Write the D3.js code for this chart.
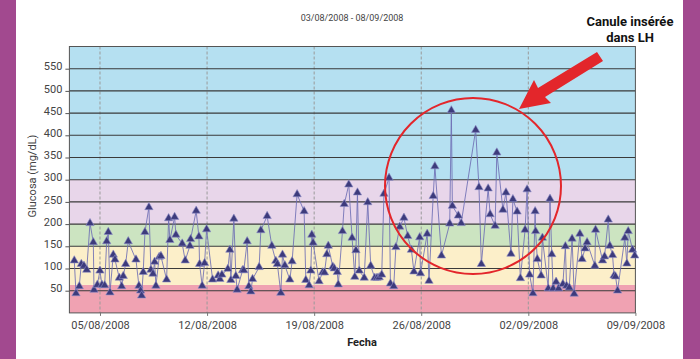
<!DOCTYPE html>
<html>
<head>
<meta charset="utf-8">
<script src="https://cdn.jsdelivr.net/npm/d3@7"></script>
<style>
  html, body { margin: 0; padding: 0; background: #ffffff; }
  svg { display: block; }
</style>
</head>
<body>
<svg id="chart" width="700" height="359"></svg>
<script>
// ---------- DATA ----------
const times = [
"03/08/2008 07:40","03/08/2008 10:20","03/08/2008 15:30","03/08/2008 18:40","03/08/2008 22:50",
"04/08/2008 03:10","04/08/2008 08:20","04/08/2008 13:30","04/08/2008 14:35","04/08/2008 19:45",
"04/08/2008 23:55","05/08/2008 03:05","05/08/2008 07:20","05/08/2008 10:30","05/08/2008 13:00",
"05/08/2008 15:40","05/08/2008 20:50","05/08/2008 23:30","06/08/2008 06:15","06/08/2008 10:00",
"06/08/2008 12:30","06/08/2008 16:15","06/08/2008 20:20","07/08/2008 08:25","07/08/2008 13:05",
"07/08/2008 15:45","07/08/2008 17:20","07/08/2008 19:50","07/08/2008 22:30","08/08/2008 04:45",
"08/08/2008 07:55","08/08/2008 11:05","08/08/2008 13:45","08/08/2008 15:45","08/08/2008 20:55",
"08/08/2008 23:35","09/08/2008 08:30","09/08/2008 11:40","09/08/2008 13:40","09/08/2008 21:05",
"09/08/2008 23:05","10/08/2008 09:00","10/08/2008 13:40","10/08/2008 21:05","10/08/2008 22:10",
"11/08/2008 06:55","11/08/2008 11:10","11/08/2008 12:15","11/08/2008 16:20","11/08/2008 20:05",
"11/08/2008 23:15","12/08/2008 08:40","12/08/2008 17:25","12/08/2008 20:05","12/08/2008 23:15",
"13/08/2008 08:35","13/08/2008 11:45","13/08/2008 13:20","13/08/2008 18:00","13/08/2008 21:10",
"13/08/2008 23:10","14/08/2008 07:40","14/08/2008 09:40","14/08/2008 14:55","14/08/2008 17:30",
"14/08/2008 20:40","14/08/2008 23:20","15/08/2008 09:40","15/08/2008 12:20","15/08/2008 22:15",
"16/08/2008 05:35","16/08/2008 11:50","16/08/2008 14:15","16/08/2008 19:40","16/08/2008 22:20",
"17/08/2008 02:00","17/08/2008 09:50","17/08/2008 13:25","17/08/2008 21:15","18/08/2008 08:15",
"18/08/2008 10:55","18/08/2008 16:05","18/08/2008 18:45","18/08/2008 20:20","18/08/2008 22:20",
"19/08/2008 07:45","19/08/2008 13:05","19/08/2008 16:15","19/08/2008 19:50","19/08/2008 22:10",
"20/08/2008 05:15","20/08/2008 07:35","20/08/2008 12:15","20/08/2008 13:50","20/08/2008 20:25",
"20/08/2008 23:15","21/08/2008 06:20","21/08/2008 11:30","21/08/2008 15:45","21/08/2008 17:35",
"21/08/2008 19:55","21/08/2008 22:45","22/08/2008 06:35","22/08/2008 12:05","22/08/2008 16:45",
"22/08/2008 23:05","23/08/2008 02:40","23/08/2008 06:05","23/08/2008 10:00","23/08/2008 13:30",
"23/08/2008 21:30","23/08/2008 23:40","24/08/2008 04:50","24/08/2008 08:15","24/08/2008 14:15",
"24/08/2008 20:50","25/08/2008 02:45","25/08/2008 08:35","25/08/2008 12:30","25/08/2008 21:35",
"25/08/2008 22:50","26/08/2008 09:20","26/08/2008 12:10","26/08/2008 18:45","26/08/2008 21:25",
"27/08/2008 07:45","27/08/2008 20:40","27/08/2008 23:15","28/08/2008 00:50","28/08/2008 10:15",
"28/08/2008 14:40","29/08/2008 13:25","29/08/2008 18:35","29/08/2008 22:20","30/08/2008 09:00",
"30/08/2008 12:05","30/08/2008 19:55","30/08/2008 22:35","31/08/2008 08:10","31/08/2008 12:55",
"31/08/2008 20:45","31/08/2008 23:50","01/09/2008 06:25","01/09/2008 11:35","01/09/2008 18:55",
"01/09/2008 22:05","02/09/2008 02:05","02/09/2008 07:15","02/09/2008 10:40","02/09/2008 11:25",
"02/09/2008 14:05","02/09/2008 20:05","02/09/2008 22:05","03/09/2008 07:20","03/09/2008 10:00",
"03/09/2008 12:50","03/09/2008 14:55","03/09/2008 19:35","03/09/2008 23:30","04/09/2008 06:15",
"04/09/2008 10:10","04/09/2008 12:00","04/09/2008 16:15","04/09/2008 20:40","04/09/2008 23:55",
"05/09/2008 08:55","05/09/2008 12:20","05/09/2008 17:00","05/09/2008 20:10","06/09/2008 08:25",
"06/09/2008 09:30","06/09/2008 20:30","06/09/2008 23:35","07/09/2008 05:25","07/09/2008 07:55",
"07/09/2008 12:10","07/09/2008 14:30","07/09/2008 16:50","07/09/2008 20:00","08/09/2008 07:25",
"08/09/2008 10:35","08/09/2008 12:45","08/09/2008 19:30","08/09/2008 22:55"
];
const glucose = [
118,44,60,110,106,
97,202,159,52,63,
95,63,62,161,182,
46,131,120,79,60,
83,110,161,120,61,
50,39,92,182,238,
97,88,115,61,126,
128,75,213,164,216,
176,156,118,151,166,
230,172,110,61,112,
188,75,84,76,86,
99,142,74,212,83,
52,96,96,161,60,
48,76,103,186,218,
151,117,110,45,131,
107,75,116,267,229,
74,62,95,176,158,
71,91,91,132,151,
104,100,92,64,184,
245,289,169,81,141,
271,95,79,249,106,
79,79,80,86,268,
304,66,60,148,194,
214,173,142,93,170,
89,178,72,263,330,
129,201,456,241,219,
202,412,283,110,280,
222,196,361,232,271,
133,256,228,78,187,
278,86,44,229,184,
121,84,169,55,257,
132,55,70,55,65,
150,61,57,167,43,
178,121,145,159,106,
187,118,127,210,151,
130,84,82,50,169,
111,184,142,129
];
const yTickValues = [50,100,150,200,250,300,350,400,450,500,550];
const xTickLabels = ["05/08/2008","12/08/2008","19/08/2008","26/08/2008","02/09/2008","09/09/2008"];
const dateRange = ["03/08/2008","09/09/2008"];
const bandLimits = [0,63,150,200,300,600];
const bandColors = ["#f0a2b2","#fcefc9","#cce4c1","#e8d6ea","#b5e0f1"];
const titleText = "03/08/2008 - 08/09/2008";
const yLabel = "Glucosa (mg/dL)";
const xLabel = "Fecha";
const noteLines = ["Canule insérée","dans LH"];

// ---------- CHART ----------
const svg = d3.select("#chart");
const parseT = d3.timeParse("%d/%m/%Y %H:%M");
const parseD = d3.timeParse("%d/%m/%Y");
const fmt = d3.timeFormat("%d/%m/%Y");
const data = times.map((t,i)=>({t:parseT(t), v:glucose[i]}));

const X0=69.4, X1=635.4, Y0=312.9, Y1=46.5;
const x = d3.scaleTime().domain(dateRange.map(parseD)).range([X0,X1]);
const y = d3.scaleLinear().domain([0,600]).range([Y0,Y1]);

// purple side strips
svg.append("rect").attr("x",0).attr("y",0).attr("width",16).attr("height",359).attr("fill","#a2498f");
svg.append("rect").attr("x",683).attr("y",0).attr("width",17).attr("height",359).attr("fill","#a2498f");

// bands
const bands = bandColors.map((c,i)=>({lo:bandLimits[i],hi:bandLimits[i+1],c}));
svg.append("g").selectAll("rect").data(bands).join("rect")
  .attr("x",X0).attr("width",X1-X0)
  .attr("y",d=>y(d.hi)).attr("height",d=>y(d.lo)-y(d.hi))
  .attr("fill",d=>d.c);

// vertical dashed lines
const xTicks = xTickLabels.map(parseD);
svg.append("g").selectAll("line").data(xTicks.filter(d=>x(d)<X1-1)).join("line")
  .attr("x1",d=>x(d)).attr("x2",d=>x(d)).attr("y1",Y1).attr("y2",Y0)
  .attr("stroke","#9a9a9a").attr("stroke-width",1).attr("stroke-dasharray","3,2");

// horizontal grid lines
svg.append("g").selectAll("line").data(yTickValues).join("line")
  .attr("x1",X0).attr("x2",X1).attr("y1",d=>y(d)).attr("y2",d=>y(d))
  .attr("stroke","#3a3a3a").attr("stroke-width",1.1);

// frame
svg.append("rect").attr("x",X0).attr("y",Y1).attr("width",X1-X0).attr("height",Y0-Y1)
  .attr("fill","none").attr("stroke","#555").attr("stroke-width",1);

// axes
const yAxis = svg.append("g").attr("transform",`translate(${X0},0)`)
  .call(d3.axisLeft(y).tickValues(yTickValues).tickSize(4).tickPadding(3));
yAxis.select(".domain").remove();
yAxis.selectAll(".tick line").attr("stroke","#555");
yAxis.selectAll("text").attr("fill","#444").style("font-family","Roboto, 'DejaVu Sans', sans-serif")
  .style("font-size","11px").attr("dy","0.1em");

const xAxis = svg.append("g").attr("transform",`translate(0,${Y0})`)
  .call(d3.axisBottom(x).tickValues(xTicks).tickFormat(fmt).tickSize(3).tickPadding(5));
xAxis.select(".domain").remove();
xAxis.selectAll(".tick line").attr("stroke","#777");
xAxis.selectAll("text").attr("fill","#444").style("font-family","Roboto, 'DejaVu Sans', sans-serif")
  .style("font-size","11px");

// line
svg.append("path").datum(data)
  .attr("d", d3.line().x(d=>x(d.t)).y(d=>y(d.v)))
  .attr("fill","none").attr("stroke","#6d6db4").attr("stroke-opacity",0.85).attr("stroke-width",1);

// markers
svg.append("g").selectAll("path").data(data).join("path")
  .attr("transform",d=>`translate(${x(d.t)},${y(d.v)})`)
  .attr("d", d3.symbol(d3.symbolTriangle, 30))
  .attr("fill","#3d3b7c").attr("stroke","#8d8dc8").attr("stroke-width",0.6);

// titles
svg.append("text").attr("x",352).attr("y",21).attr("text-anchor","middle")
  .style("font-family","Roboto, sans-serif").style("font-size","9px").attr("fill","#444").text(titleText);
svg.append("text").attr("transform","translate(36,176) rotate(-90)").attr("text-anchor","middle")
  .style("font-family","Roboto, sans-serif").style("font-size","11px").attr("fill","#444").text(yLabel);
svg.append("text").attr("x",362).attr("y",346).attr("text-anchor","middle")
  .style("font-family","Roboto, sans-serif").style("font-size","11px").style("font-weight","bold")
  .attr("fill","#222").text(xLabel);

// annotation circle and arrow
svg.append("circle").attr("cx",y.range && 473).attr("cy",186).attr("r",88)
  .attr("fill","none").attr("stroke","#e3262b").attr("stroke-width",2);
svg.append("path")
  .attr("d","M603,61 L597,52 L538,88 L534,80 L519,109 L551,103 L545,97 Z")
  .attr("fill","#e3262b");

svg.append("g").selectAll("text").data(noteLines).join("text")
  .attr("x",630).attr("y",(d,i)=>26+i*16).attr("text-anchor","middle")
  .style("font-family","Roboto, sans-serif").style("font-size","13px").style("font-weight","bold")
  .attr("fill","#111").text(d=>d);
</script>
</body>
</html>
